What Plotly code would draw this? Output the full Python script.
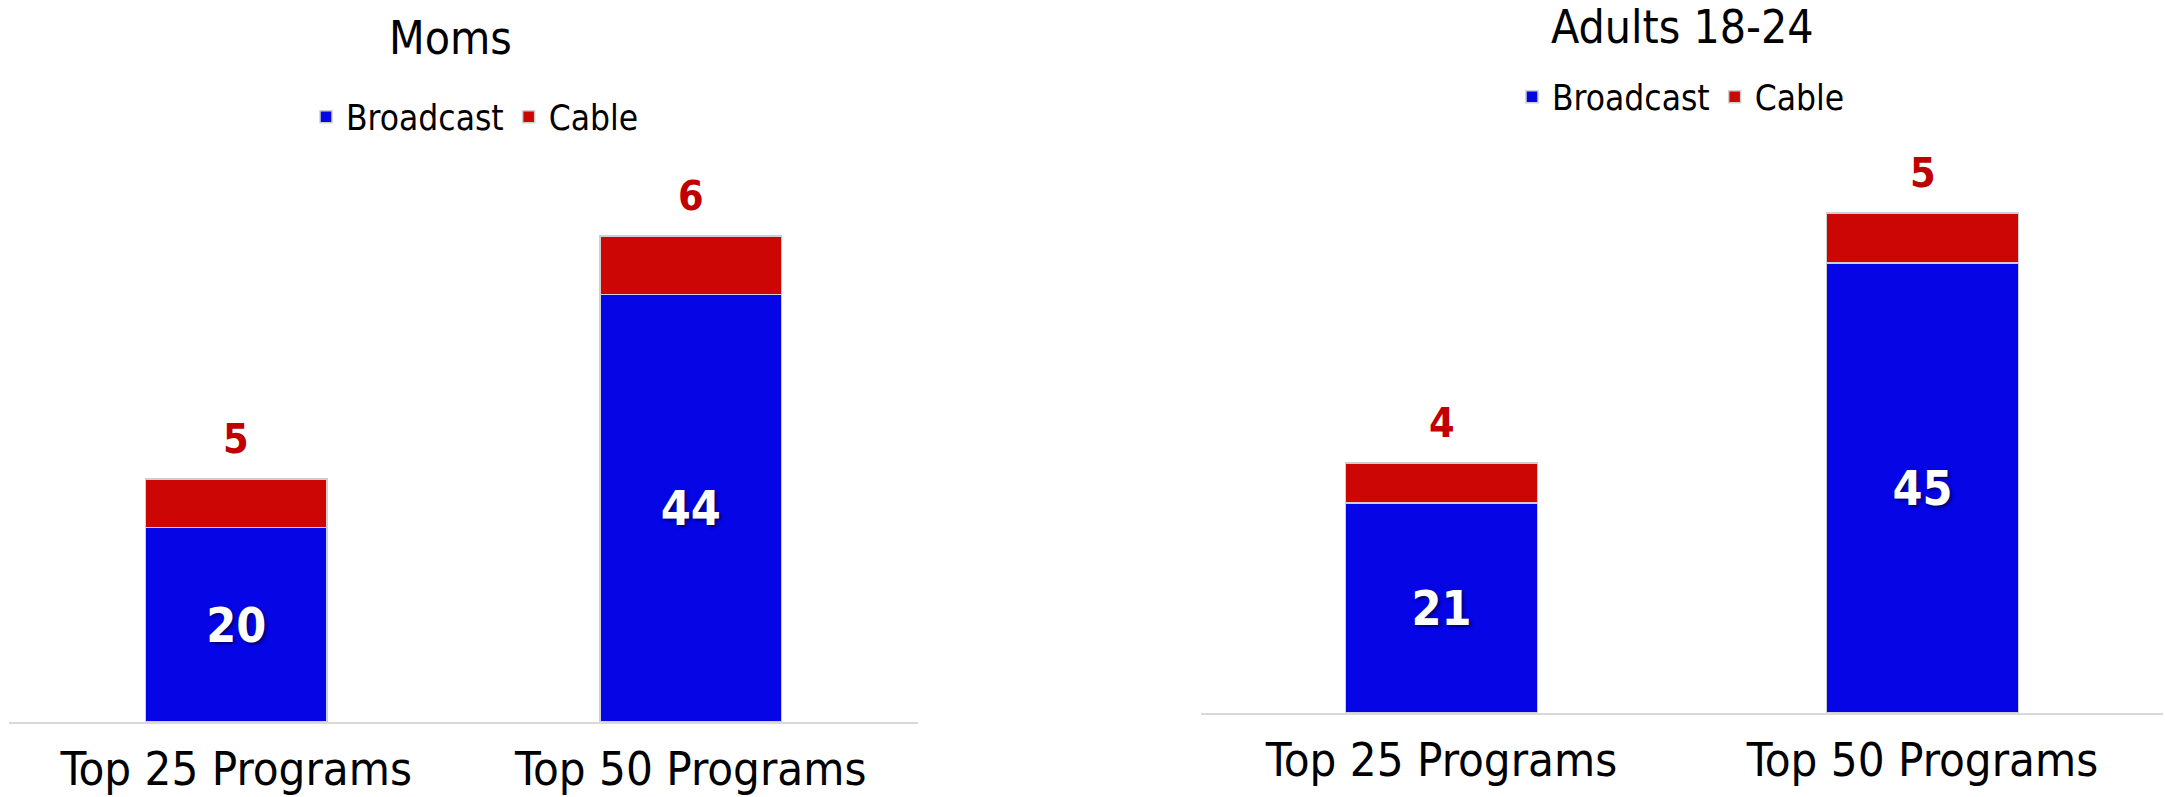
import plotly.graph_objects as go

# ---- data ----
categories = ["Top 25 Programs", "Top 50 Programs"]
moms_broadcast = [20, 44]
moms_cable = [5, 6]
adults_broadcast = [21, 45]
adults_cable = [4, 5]
panel_titles = ["Moms", "Adults 18-24"]
series_names = ["Broadcast", "Cable"]

FONT = "DejaVu Sans Condensed, DejaVu Sans, sans-serif"
BLUE = "#0505e6"
RED = "#cc0505"
LABEL_RED = "#c00000"
EDGE = "#cfcfcf"

fig = go.Figure()

panels = [
    (moms_broadcast, moms_cable, "x", "y", "legend"),
    (adults_broadcast, adults_cable, "x2", "y2", "legend2"),
]

for b, c, xa, ya, lg in panels:
    fig.add_trace(go.Bar(
        x=categories, y=b, name=series_names[0], xaxis=xa, yaxis=ya, legend=lg,
        marker=dict(color=BLUE, line=dict(color=EDGE, width=1.5)),
        text=[str(v) for v in b], textposition="inside", insidetextanchor="middle",
        textangle=0, constraintext="none",
        insidetextfont=dict(family=FONT, size=48, color="white", weight="bold",
                            shadow="2px 2px 3px rgba(0,0,60,0.7)"),
        width=0.4, hoverinfo="skip",
    ))
    fig.add_trace(go.Bar(
        x=categories, y=c, name=series_names[1], xaxis=xa, yaxis=ya, legend=lg,
        marker=dict(color=RED, line=dict(color=EDGE, width=1.5)),
        width=0.4, hoverinfo="skip",
    ))
    # value labels above the cable segment
    for cat, bv, cv in zip(categories, b, c):
        fig.add_annotation(
            x=cat, y=bv + cv, xref=xa, yref=ya, text=str(cv), showarrow=False,
            yanchor="bottom", yshift=14,
            font=dict(family=FONT, size=41, color=LABEL_RED, weight="bold"),
        )

axis_common = dict(
    showline=True, linecolor="#d9d9d9", linewidth=2, showgrid=False, zeroline=False,
    ticks="outside", ticklen=5, tickcolor="rgba(0,0,0,0)", automargin=False,
    tickfont=dict(family=FONT, size=47, color="black"),
)
yaxis_common = dict(visible=False, range=[0, 60], showgrid=False, zeroline=False,
                    automargin=False)

fig.update_layout(
    width=2165, height=797,
    margin=dict(l=0, r=0, t=0, b=0, autoexpand=False),
    paper_bgcolor="white", plot_bgcolor="white",
    barmode="stack",
    showlegend=True,
    xaxis=dict(domain=[9 / 2165, 918 / 2165], anchor="y", **axis_common),
    yaxis=dict(domain=[75 / 797, 658 / 797], anchor="x", **yaxis_common),
    xaxis2=dict(domain=[1201 / 2165, 2163 / 2165], anchor="y2", **axis_common),
    yaxis2=dict(domain=[84 / 797, 684 / 797], anchor="x2", **yaxis_common),
    legend=dict(orientation="h", x=475 / 2165, xanchor="center", y=1 - 117 / 797,
                yanchor="middle", traceorder="normal",
                font=dict(family=FONT, size=35, color="black"),
                bgcolor="rgba(0,0,0,0)"),
    legend2=dict(orientation="h", x=1681 / 2165, xanchor="center", y=1 - 97 / 797,
                 yanchor="middle", traceorder="normal",
                 font=dict(family=FONT, size=35, color="black"),
                 bgcolor="rgba(0,0,0,0)"),
)

fig.add_annotation(text=panel_titles[0], xref="paper", yref="paper",
                   x=450 / 2165, y=1 - 38 / 797, showarrow=False,
                   xanchor="center", yanchor="middle",
                   font=dict(family=FONT, size=46, color="black"))
fig.add_annotation(text=panel_titles[1], xref="paper", yref="paper",
                   x=1682 / 2165, y=1 - 27 / 797, showarrow=False,
                   xanchor="center", yanchor="middle",
                   font=dict(family=FONT, size=46, color="black"))

fig.write_html(
    "out.html",
    config={"displayModeBar": False},
    post_script="document.body.style.margin='0px';document.body.style.overflow='hidden';",
)
